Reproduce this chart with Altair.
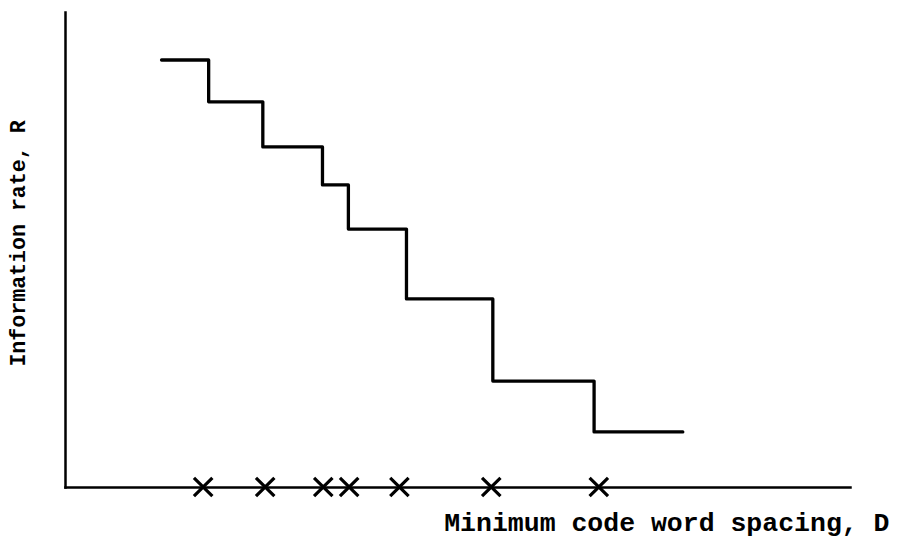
import altair as alt
import pandas as pd

# Step curve: x positions where each rate level begins (plus the curve end), and the rate levels
step_D = [12.3, 18.3, 25.2, 32.8, 36.1, 43.5, 54.5, 67.4, 78.7]
step_R = [89.9, 81.1, 71.6, 63.6, 54.3, 39.6, 22.3, 11.6, 11.6]

# Cross markers on the D axis
mark_D = [17.6, 25.5, 32.9, 36.2, 42.6, 54.3, 68.0]
mark_R = [0, 0, 0, 0, 0, 0, 0]

x_title = "Minimum code word spacing, D"
y_title = "Information rate, R"

step_df = pd.DataFrame({"D": step_D, "R": step_R})
mark_df = pd.DataFrame({"D": mark_D, "R": mark_R})

FONT = "Liberation Mono"

x_scale = alt.Scale(domain=[0, 100], nice=False, zero=False)
y_scale = alt.Scale(domain=[0, 100], nice=False, zero=False)

x_axis = alt.Axis(
    title=x_title, labels=False, ticks=False, grid=False,
    domain=True, domainColor="black", domainWidth=2.5, domainCap="square",
    titleFont=FONT, titleFontSize=26.5, titleFontWeight="bold", titleColor="black",
    titleX=824, titleY=43, titleAlign="right", titleBaseline="alphabetic",
)
y_axis = alt.Axis(
    title=y_title, labels=False, ticks=False, grid=False,
    domain=True, domainColor="black", domainWidth=2.5, domainCap="square",
    titleFont=FONT, titleFontSize=21.6, titleFontWeight="bold", titleColor="black",
    titleX=-41, titleY=231, titleAngle=-90, titleAlign="center", titleBaseline="alphabetic",
)

line = alt.Chart(step_df).mark_line(
    interpolate="step-after", color="black", strokeWidth=3.3, strokeJoin="round", strokeCap="round"
).encode(
    x=alt.X("D:Q", scale=x_scale, axis=x_axis),
    y=alt.Y("R:Q", scale=y_scale, axis=y_axis),
)

crosses = alt.Chart(mark_df).mark_point(
    shape="M-1,-1L1,1M-1,1L1,-1", filled=False, stroke="black",
    strokeWidth=3.2, size=340, opacity=1,
).encode(
    x=alt.X("D:Q", scale=x_scale),
    y=alt.Y("R:Q", scale=y_scale),
)

chart = alt.layer(line, crosses).properties(
    width=785, height=475,
    autosize=alt.AutoSizeParams(type="none"),
    padding={"left": 57, "top": 4, "right": 40, "bottom": 59},
    background="white",
).configure_view(stroke=None)

chart.save("out.html", embed_options={"renderer": "svg", "actions": False})
